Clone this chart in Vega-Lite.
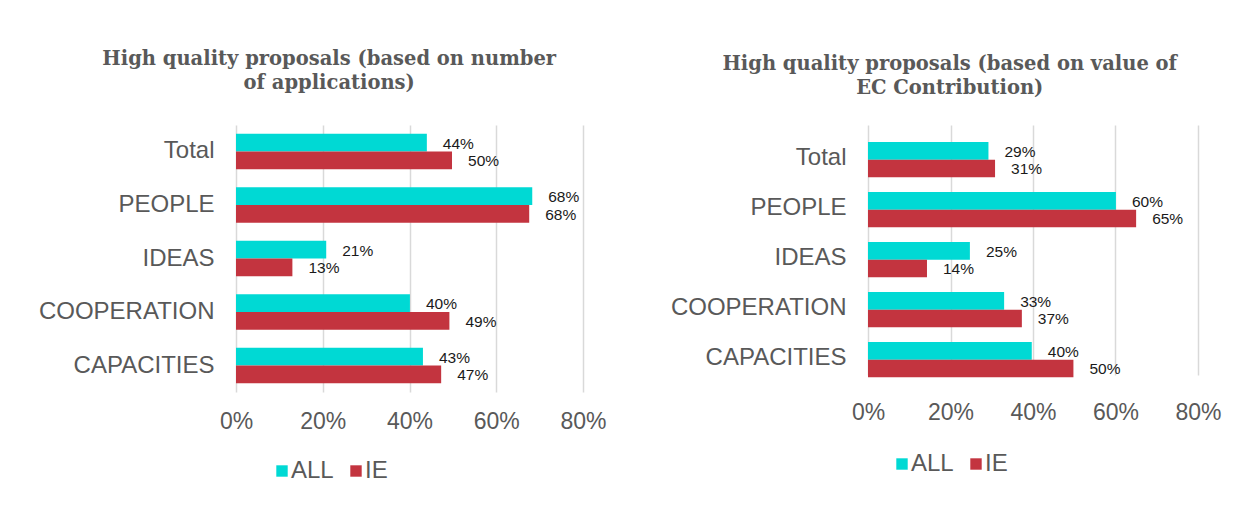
{
  "$schema": "https://vega.github.io/schema/vega-lite/v6.json",
  "padding": {"left": 38, "top": 48, "right": 5, "bottom": 5},
  "background": "white",
  "datasets": {
    "apps": [
      {"category": "Total", "series": "ALL", "value": 0.44},
      {"category": "Total", "series": "IE", "value": 0.498},
      {"category": "PEOPLE", "series": "ALL", "value": 0.683},
      {"category": "PEOPLE", "series": "IE", "value": 0.676},
      {"category": "IDEAS", "series": "ALL", "value": 0.208},
      {"category": "IDEAS", "series": "IE", "value": 0.13},
      {"category": "COOPERATION", "series": "ALL", "value": 0.401},
      {"category": "COOPERATION", "series": "IE", "value": 0.492},
      {"category": "CAPACITIES", "series": "ALL", "value": 0.431},
      {"category": "CAPACITIES", "series": "IE", "value": 0.473}
    ],
    "ec": [
      {"category": "Total", "series": "ALL", "value": 0.292},
      {"category": "Total", "series": "IE", "value": 0.308},
      {"category": "PEOPLE", "series": "ALL", "value": 0.601},
      {"category": "PEOPLE", "series": "IE", "value": 0.65},
      {"category": "IDEAS", "series": "ALL", "value": 0.247},
      {"category": "IDEAS", "series": "IE", "value": 0.143},
      {"category": "COOPERATION", "series": "ALL", "value": 0.33},
      {"category": "COOPERATION", "series": "IE", "value": 0.373},
      {"category": "CAPACITIES", "series": "ALL", "value": 0.397},
      {"category": "CAPACITIES", "series": "IE", "value": 0.498}
    ]
  },
  "spacing": 63,
  "resolve": {"scale": {"color": "independent"}},
  "hconcat": [
    {
      "width": 347,
      "height": 267,
      "title": {"text": ["High quality proposals (based on number", "of applications)"], "offset": 32, "dx": 7},
      "data": {"name": "apps"},
      "encoding": {
        "y": {"field": "category", "type": "nominal", "sort": ["Total", "PEOPLE", "IDEAS", "COOPERATION", "CAPACITIES"], "scale": {"paddingInner": 0.34, "paddingOuter": 0.165}, "title": null},
        "yOffset": {"field": "series", "type": "nominal", "sort": ["ALL", "IE"]},
        "x": {"field": "value", "type": "quantitative", "scale": {"domain": [0, 0.8]}, "axis": {"format": ".0%", "values": [0, 0.2, 0.4, 0.6, 0.8]}, "title": null}
      },
      "layer": [
        {"mark": {"type": "bar"}, "encoding": {"color": {"field": "series", "type": "nominal", "sort": ["ALL", "IE"], "scale": {"domain": ["ALL", "IE"], "range": ["#00d9d4", "#c3343f"]}, "title": null, "legend": {"orient": "none", "legendX": 34, "legendY": 334}}}},
        {"mark": {"type": "text", "align": "left", "baseline": "middle", "dx": 16, "dy": 1, "fontSize": 15.5, "font": "Liberation Sans", "color": "#1a1a1a"}, "encoding": {"text": {"field": "value", "type": "quantitative", "format": ".0%"}}}
      ]
    },
    {
      "width": 330,
      "height": 258,
      "title": {"text": ["High quality proposals (based on value of", "EC Contribution)"], "offset": 27, "dx": 4},
      "data": {"name": "ec"},
      "encoding": {
        "y": {"field": "category", "type": "nominal", "sort": ["Total", "PEOPLE", "IDEAS", "COOPERATION", "CAPACITIES"], "scale": {"paddingInner": 0.36, "paddingOuter": 0.18, "range": [8, 258]}, "title": null},
        "yOffset": {"field": "series", "type": "nominal", "sort": ["ALL", "IE"]},
        "x": {"field": "value", "type": "quantitative", "scale": {"domain": [0, 0.8]}, "axis": {"format": ".0%", "values": [0, 0.2, 0.4, 0.6, 0.8]}, "title": null}
      },
      "layer": [
        {"mark": {"type": "bar"}, "encoding": {"color": {"field": "series", "type": "nominal", "sort": ["ALL", "IE"], "scale": {"domain": ["ALL", "IE"], "range": ["#00d9d4", "#c3343f"]}, "title": null, "legend": {"orient": "none", "legendX": 22, "legendY": 327}}}},
        {"mark": {"type": "text", "align": "left", "baseline": "middle", "dx": 16, "dy": 1, "fontSize": 15.5, "font": "Liberation Sans", "color": "#1a1a1a"}, "encoding": {"text": {"field": "value", "type": "quantitative", "format": ".0%"}}}
      ]
    }
  ],
  "config": {
    "view": {"stroke": null},
    "title": {"font": "DejaVu Serif", "fontWeight": "bold", "fontSize": 19.5, "color": "#595959", "anchor": "middle", "frame": "bounds", "lineHeight": 24},
    "axisY": {"domain": false, "ticks": false, "labelFont": "Liberation Sans", "labelFontSize": 24, "labelColor": "#595959", "labelPadding": 22, "grid": false},
    "axisX": {"domain": false, "ticks": false, "grid": true, "gridColor": "#d9d9d9", "gridWidth": 1.5, "labelFont": "Liberation Sans", "labelFontSize": 23, "labelColor": "#595959", "labelPadding": 18, "labelFlush": false},
    "legend": {"direction": "horizontal", "labelFont": "Liberation Sans", "labelFontSize": 24, "labelColor": "#595959", "symbolType": "square", "symbolSize": 130, "symbolStrokeWidth": 0, "columnPadding": 10, "labelOffset": -3}
  }
}
